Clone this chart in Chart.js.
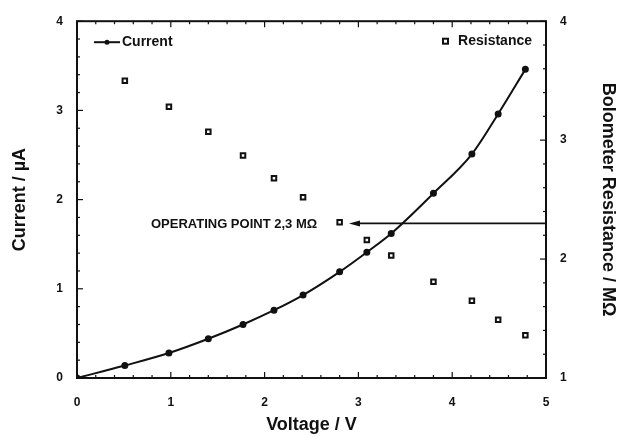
<!DOCTYPE html>
<html>
<head>
<meta charset="utf-8">
<script src="https://cdn.jsdelivr.net/npm/chart.js@4/dist/chart.umd.min.js"></script>
<style>
  html,body{margin:0;padding:0;background:#fff;}
  #wrap{width:617px;height:438px;}
</style>
</head>
<body>
<div id="wrap"><canvas id="mainChart"></canvas></div>
<script>
// readings
const voltage = [0, 0.51, 0.98, 1.40, 1.77, 2.10, 2.41, 2.80, 3.09, 3.35, 3.80, 4.21, 4.49, 4.78];
const current = [0, 0.14, 0.28, 0.44, 0.60, 0.76, 0.93, 1.19, 1.41, 1.62, 2.07, 2.51, 2.96, 3.46];
const resVoltage = [0.51, 0.98, 1.40, 1.77, 2.10, 2.41, 2.80, 3.09, 3.35, 3.80, 4.21, 4.49, 4.78];
const resistance = [3.50, 3.28, 3.07, 2.87, 2.68, 2.52, 2.31, 2.16, 2.03, 1.81, 1.65, 1.49, 1.36];
const xTicks = [0, 1, 2, 3, 4, 5];
const currentTicks = [0, 1, 2, 3, 4];
const resTicks = [1, 2, 3, 4];
// operating point annotation
const opR = 2.3;
const opArrowV = [5, 2.9];
const opLabelV = 2.56;
const opLabel = 'OPERATING POINT 2,3 M\u03A9';

const FONT = '"Liberation Sans", Arial, sans-serif';
const INK = '#111';

const frame = {
  id: 'frame',
  afterDraw(chart){
    const {ctx, chartArea:a, scales} = chart;
    const x = scales.x, y = scales.y, r = scales.yRes;
    ctx.save();
    ctx.strokeStyle = INK;
    ctx.fillStyle = INK;
    // box
    ctx.lineWidth = 2;
    ctx.strokeRect(a.left, a.top, a.right-a.left, a.bottom-a.top);
    // inward ticks
    ctx.lineWidth = 1.2;
    const tick = (x1,y1,x2,y2)=>{ctx.beginPath();ctx.moveTo(x1,y1);ctx.lineTo(x2,y2);ctx.stroke();};
    for(let i=0;i<=25;i++){
      const v = i*0.2, px = x.getPixelForValue(v), len = i%5===0 ? 6 : 3;
      tick(px, a.bottom, px, a.bottom-len);
      tick(px, a.top, px, a.top+len);
    }
    for(let i=0;i<=20;i++){
      const v = i*0.2, py = y.getPixelForValue(v), len = i%5===0 ? 6 : 3;
      tick(a.left, py, a.left+len, py);
    }
    for(let i=0;i<=15;i++){
      const v = 1+i*0.2, py = r.getPixelForValue(v), len = i%5===0 ? 6 : 3;
      tick(a.right, py, a.right-len, py);
    }
    // operating point arrow
    const ay = r.getPixelForValue(opR);
    const ax1 = x.getPixelForValue(opArrowV[0]), ax2 = x.getPixelForValue(opArrowV[1]);
    ctx.lineWidth = 1.6;
    tick(ax1, ay, ax2+6, ay);
    ctx.beginPath();
    ctx.moveTo(ax2, ay);
    ctx.lineTo(ax2+11, ay-3);
    ctx.lineTo(ax2+11, ay+3);
    ctx.closePath();
    ctx.fill();
    ctx.font = 'bold 13px ' + FONT;
    ctx.textAlign = 'right';
    ctx.textBaseline = 'middle';
    ctx.fillText(opLabel, x.getPixelForValue(opLabelV), ay+1);
    // legends
    ctx.font = 'bold 14px ' + FONT;
    ctx.textAlign = 'left';
    const ly = a.top + 21;
    ctx.lineWidth = 2;
    tick(a.left+17, ly, a.left+43, ly);
    ctx.beginPath(); ctx.arc(a.left+30, ly, 2.5, 0, Math.PI*2); ctx.fill();
    ctx.fillText('Current', a.left+45, ly);
    ctx.lineWidth = 2;
    ctx.strokeRect(a.right-103, ly-3.5, 5, 5);
    ctx.textAlign = 'right';
    ctx.fillText('Resistance', a.right-14, ly-1);
    ctx.restore();
  }
};

const tickFont = {family: FONT, size: 12, weight: 'bold'};
const titleFont = {family: FONT, size: 18, weight: 'bold', lineHeight: 1};

new Chart(document.getElementById('mainChart'), {
  type: 'scatter',
  data: {
    datasets: [
      {
        label: 'Current',
        data: voltage.map((v,i)=>({x:v, y:current[i]})),
        yAxisID: 'y',
        showLine: true,
        borderColor: INK,
        backgroundColor: INK,
        borderWidth: 2,
        pointRadius: 2.5,
        cubicInterpolationMode: 'monotone'
      },
      {
        label: 'Resistance',
        data: resVoltage.map((v,i)=>({x:v, y:resistance[i]})),
        yAxisID: 'yRes',
        showLine: false,
        pointStyle: 'rect',
        pointRadius: 3.2,
        borderColor: INK,
        backgroundColor: '#fff',
        borderWidth: 2
      }
    ]
  },
  options: {
    responsive: true,
    maintainAspectRatio: false,
    animation: false,
    events: [],
    layout: {padding: {top: 16, left: 0, right: 0, bottom: 0}},
    plugins: {legend: {display: false}, tooltip: {enabled: false}},
    scales: {
      x: {
        type: 'linear', min: 0, max: 5,
        afterBuildTicks: s => { s.ticks = xTicks.map(v=>({value:v})); },
        afterFit: s => { s.height = 60; },
        grid: {display: false, drawTicks: false},
        border: {display: false},
        ticks: {color: INK, font: tickFont, padding: 17},
        title: {display: true, text: 'Voltage / V', color: INK, font: titleFont, padding: {top: 0, bottom: 4}}
      },
      y: {
        type: 'linear', position: 'left', min: 0, max: 4,
        afterBuildTicks: s => { s.ticks = currentTicks.map(v=>({value:v})); },
        afterFit: s => { s.width = 77; },
        grid: {display: false, drawTicks: false},
        border: {display: false},
        ticks: {color: INK, font: tickFont, padding: 14},
        title: {display: true, text: 'Current / \u00B5A', color: INK, font: titleFont, padding: {top: 11, bottom: 0}}
      },
      yRes: {
        type: 'linear', position: 'right', axis: 'y', min: 1, max: 4,
        afterBuildTicks: s => { s.ticks = resTicks.map(v=>({value:v})); },
        afterFit: s => { s.width = 71; },
        grid: {display: false, drawTicks: false},
        border: {display: false},
        ticks: {color: INK, font: tickFont, padding: 14},
        title: {display: true, text: 'Bolometer Resistance / M\u03A9', color: INK, font: titleFont, padding: {top: 0, bottom: 0}}
      }
    }
  },
  plugins: [frame]
});
</script>
</body>
</html>
